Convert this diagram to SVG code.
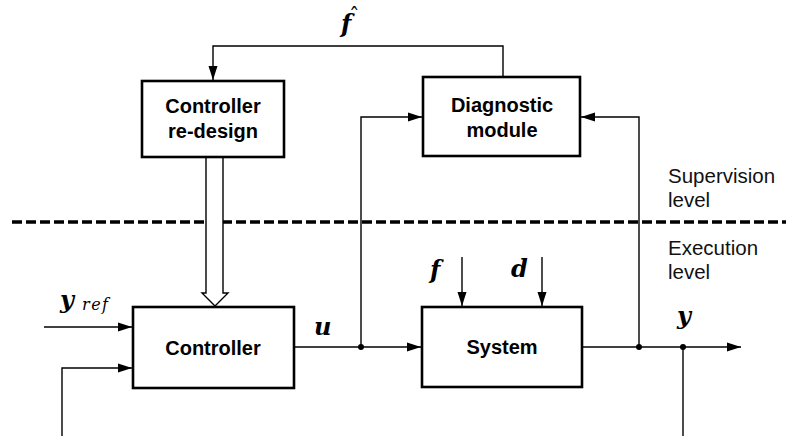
<svg xmlns="http://www.w3.org/2000/svg" width="786" height="436" viewBox="0 0 786 436">
<defs>
<marker id="ah" markerWidth="14" markerHeight="10" refX="14" refY="5" orient="auto" markerUnits="userSpaceOnUse">
<path d="M0,0.5 L14,5 L0,9.5 Z" fill="#000"/>
</marker>
<style>
.box{fill:#fff;stroke:#000;stroke-width:2.6}
.ln{fill:none;stroke:#000;stroke-width:1.4}
.bt{font-family:"Liberation Sans",Arial,sans-serif;font-weight:bold;font-size:20px;text-anchor:middle;fill:#000}
.lt{font-family:"Liberation Sans",Arial,sans-serif;font-size:20.5px;fill:#111}
.m{font-family:"DejaVu Serif",serif;font-weight:bold;font-style:italic;font-size:24px;fill:#000}
.s{font-family:"DejaVu Serif",serif;font-style:italic;font-size:16px;letter-spacing:1.5px;fill:#000}
</style>
</defs>
<rect width="786" height="436" fill="#fff"/>
<line x1="12" y1="222" x2="786" y2="222" stroke="#000" stroke-width="3.3" stroke-dasharray="10,4"/>
<g id="connectors">
<polyline class="ln" points="503,77 503,46 213,46 213,80" marker-end="url(#ah)"/>
<polyline class="ln" points="361,347 361,117 422,117" marker-end="url(#ah)"/>
<polyline class="ln" points="639,347 639,117 581,117" marker-end="url(#ah)"/>
<line class="ln" x1="44" y1="327" x2="132" y2="327" marker-end="url(#ah)"/>
<polyline class="ln" points="62,436 62,368 132,368" marker-end="url(#ah)"/>
<line class="ln" x1="294" y1="347" x2="421" y2="347" marker-end="url(#ah)"/>
<line class="ln" x1="582" y1="347" x2="741" y2="347" marker-end="url(#ah)"/>
<line class="ln" x1="683" y1="347" x2="683" y2="436"/>
<line class="ln" x1="462" y1="257" x2="462" y2="306" marker-end="url(#ah)"/>
<line class="ln" x1="542" y1="257" x2="542" y2="306" marker-end="url(#ah)"/>
<path d="M206,157 V293 H202 L215,306 L228,293 H223 V157" fill="#fff" stroke="#000" stroke-width="1.4"/>
<circle cx="361" cy="347" r="3"/>
<circle cx="639" cy="347" r="3"/>
<circle cx="683" cy="347" r="3"/>
</g>
<g id="redesign">
<rect class="box" x="142" y="81" width="142" height="76"/>
<text class="bt" x="213" y="113">Controller</text>
<text class="bt" x="213" y="138">re-design</text>
</g>
<g id="diagnostic">
<rect class="box" x="423" y="77" width="157" height="79"/>
<text class="bt" x="502" y="112">Diagnostic</text>
<text class="bt" x="502" y="137">module</text>
</g>
<g id="controller">
<rect class="box" x="133" y="307" width="161" height="81"/>
<text class="bt" x="213" y="355">Controller</text>
</g>
<g id="system">
<rect class="box" x="422" y="307" width="160" height="80"/>
<text class="bt" x="502" y="354">System</text>
</g>
<g id="labels">
<text class="m" x="341" y="32">f<tspan x="349" y="23" font-size="21" font-weight="normal" font-style="normal">ˆ</tspan></text>
<text class="m" x="60" y="308">y</text><text class="s" x="82" y="310">ref</text>
<text class="m" x="314" y="335">u</text>
<text class="m" x="677" y="324">y</text>
<text class="m" x="430" y="278">f</text>
<text class="m" x="511" y="277">d</text>
<text class="lt" x="668" y="183">Supervision</text>
<text class="lt" x="668" y="207">level</text>
<text class="lt" x="668" y="255">Execution</text>
<text class="lt" x="668" y="279">level</text>
</g>
</svg>
